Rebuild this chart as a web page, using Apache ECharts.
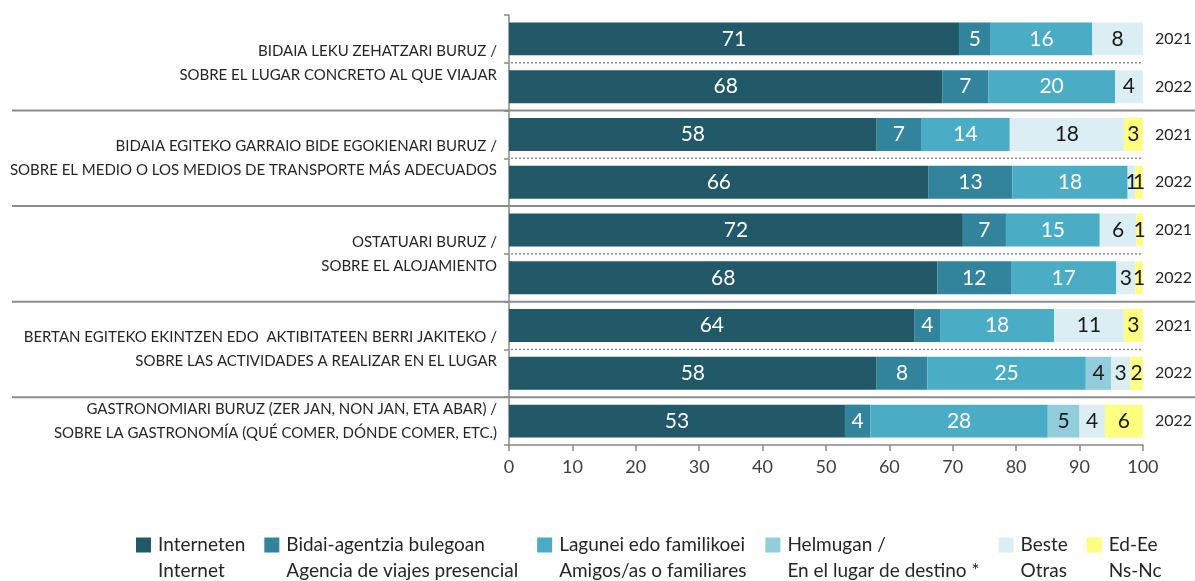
<!DOCTYPE html>
<html><head><meta charset="utf-8">
<script src="https://cdn.jsdelivr.net/npm/echarts/dist/echarts.min.js"></script>
<style>html,body{margin:0;padding:0;background:#fff}#c{width:1195px;height:581px}</style>
</head><body><div id="c"></div>
<script>
// ---- data ----
const groupLabels = [
  'BIDAIA LEKU ZEHATZARI BURUZ /\nSOBRE EL LUGAR CONCRETO AL QUE VIAJAR',
  'BIDAIA EGITEKO GARRAIO BIDE EGOKIENARI BURUZ /\nSOBRE EL MEDIO O LOS MEDIOS DE TRANSPORTE MÁS ADECUADOS',
  'OSTATUARI BURUZ /\nSOBRE EL ALOJAMIENTO',
  'BERTAN EGITEKO EKINTZEN EDO  AKTIBITATEEN BERRI JAKITEKO /\nSOBRE LAS ACTIVIDADES A REALIZAR EN EL LUGAR',
  'GASTRONOMIARI BURUZ (ZER JAN, NON JAN, ETA ABAR) /\nSOBRE LA GASTRONOMÍA (QUÉ COMER, DÓNDE COMER, ETC.)'
];
const groupOfRow = [0, 0, 1, 1, 2, 2, 3, 3, 4];
const years = ['2021', '2022', '2021', '2022', '2021', '2022', '2021', '2022', '2022'];
const seriesNames = ['Interneten', 'Bidai-agentzia bulegoan', 'Lagunei edo familikoei', 'Helmugan /', 'Beste', 'Ed-Ee'];
const seriesNames2 = ['Internet', 'Agencia de viajes presencial', 'Amigos/as o familiares', 'En el lugar de destino *', 'Otras', 'Ns-Nc'];
const internet = [71, 68.4, 58, 66.2, 71.6, 67.6, 64, 58, 53];
const agencia  = [5, 7.2, 7, 13.2, 6.8, 11.6, 4, 8, 4];
const lagunei  = [16, 20, 14, 18.2, 14.8, 16.6, 18, 25, 28];
const helmugan = [null, null, null, null, null, null, null, 4, 5];
const beste    = [8, 4.4, 18, 1.2, 5.8, 3.0, 11, 3, 4];
const edee     = [null, null, 3, 1.2, 1.0, 1.2, 3, 2, 6];
const xTicks = [0, 10, 20, 30, 40, 50, 60, 70, 80, 90, 100];

// ---- chart ----
const FONT = 'Lato';
const colors = ['#215968', '#31849B', '#4BACC6', '#92CDDC', '#DAEEF3', '#FFFF80'];
const labelColors = ['#ffffff', '#ffffff', '#ffffff', '#1a1a1a', '#1a1a1a', '#1a1a1a'];
const allData = [internet, agencia, lagunei, helmugan, beste, edee];
const rowIds = years.map((y, i) => String(i));

const chart = echarts.init(document.getElementById('c'), null, {renderer: 'canvas'});

const series = seriesNames.map((n, k) => ({
  name: n,
  type: 'bar',
  stack: 'total',
  data: allData[k],
  barCategoryGap: '31%',
  itemStyle: {color: colors[k]},
  label: {
    show: true,
    position: 'inside',
    color: labelColors[k],
    fontFamily: FONT,
    fontSize: 21,
    formatter: p => (p.value == null || p.value === 0) ? '' : String(Math.round(p.value))
  },
  emphasis: {disabled: true},
  animation: false
}));

const nameMap = {};
seriesNames.forEach((n, k) => nameMap[n] = ' \n' + n + '\n' + seriesNames2[k]);

chart.setOption({
  animation: false,
  color: colors,
  grid: {left: 509, right: 50, top: 15, bottom: 136, containLabel: false},
  xAxis: {
    type: 'value', min: xTicks[0], max: xTicks[xTicks.length - 1], interval: 10,
    axisLine: {show: true, lineStyle: {color: '#898989', width: 1.5}},
    axisTick: {show: true, length: 6, lineStyle: {color: '#898989', width: 1.5}},
    splitLine: {show: false},
    axisLabel: {color: '#404040', fontFamily: FONT, fontSize: 18, margin: 13,
      formatter: v => xTicks.indexOf(v) >= 0 ? String(v) : ''}
  },
  yAxis: [{
    type: 'category', data: rowIds, inverse: true,
    axisLine: {show: true, lineStyle: {color: '#898989', width: 1.5}},
    axisTick: {show: true, length: 5, interval: 0, alignWithLabel: false, lineStyle: {color: '#898989', width: 1.5}},
    axisLabel: {show: false},
    splitLine: {show: false}
  }, {
    type: 'category', data: years, inverse: true, position: 'right',
    axisLine: {show: false}, axisTick: {show: false},
    axisLabel: {show: true, color: '#262626', fontFamily: FONT, fontSize: 16, margin: 12, align: 'left'}
  }],
  legend: {
    data: seriesNames,
    left: 136, top: 506, padding: 0,
    itemWidth: 15, itemHeight: 15, itemGap: 19,
    icon: 'rect',
    selectedMode: false,
    formatter: n => nameMap[n],
    textStyle: {color: '#262626', fontFamily: FONT, fontSize: 19, lineHeight: 26, padding: [0, 0, 0, 2]}
  },
  series: series
});

// separators and group labels, placed through the axes
const yPix = i => chart.convertToPixel({yAxisIndex: 0}, i);
const x0 = chart.convertToPixel({xAxisIndex: 0}, xTicks[0]);
const x100 = chart.convertToPixel({xAxisIndex: 0}, xTicks[xTicks.length - 1]);
const graphics = [];
for (let i = 0; i < years.length - 1; i++) {
  const yb = (yPix(i) + yPix(i + 1)) / 2;
  if (groupOfRow[i] !== groupOfRow[i + 1]) {
    graphics.push({type: 'line', shape: {x1: 12, y1: yb, x2: 1195, y2: yb},
      style: {stroke: '#8c8c8c', lineWidth: 2}, silent: true, z: 10});
  } else {
    graphics.push({type: 'line', shape: {x1: x0 + 2, y1: yb, x2: x100, y2: yb},
      style: {stroke: '#8c8c8c', lineWidth: 1.5, lineDash: [2, 2]}, silent: true, z: 10});
  }
}
groupLabels.forEach((g, gi) => {
  const rows = groupOfRow.map((v, i) => v === gi ? i : -1).filter(i => i >= 0);
  const cy = (yPix(rows[0]) + yPix(rows[rows.length - 1])) / 2;
  graphics.push({type: 'text', x: x0 - 12, y: cy, silent: true,
    style: {text: g, align: 'right', verticalAlign: 'middle', textAlign: 'right', textVerticalAlign: 'middle',
      fontFamily: FONT, fontSize: 15, lineHeight: 24, fill: '#262626'}});
});
chart.setOption({graphic: graphics});
</script>
</body></html>
